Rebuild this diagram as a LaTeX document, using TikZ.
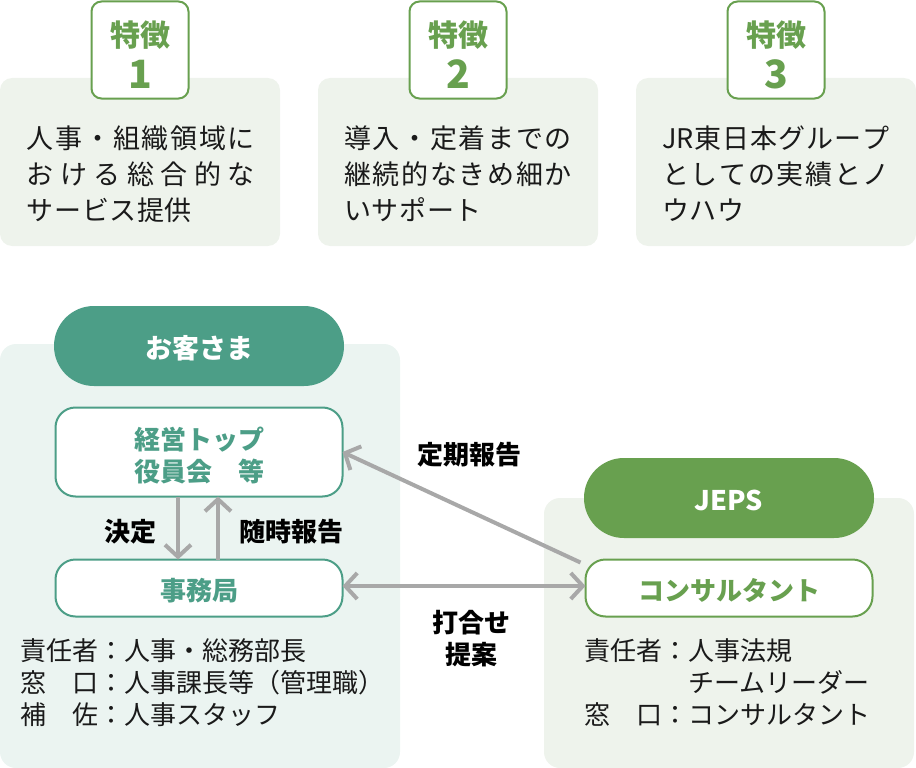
\documentclass[tikz,border=0pt]{standalone}
\usepackage{fontspec}
\setmainfont{Noto Sans CJK JP}
\usetikzlibrary{arrows.meta}
\definecolor{lgreen}{HTML}{68A04F}
\definecolor{teal}{HTML}{4C9E87}
\definecolor{panelg}{HTML}{EEF3EC}
\definecolor{panelt}{HTML}{EBF4F1}
\definecolor{arrowgray}{HTML}{A8A8A8}
\definecolor{ink}{HTML}{1A1A1A}
\newcommand{\jline}[2][228pt]{\makebox[#1][s]{\spaceskip=0pt plus 30pt\xspaceskip=0pt plus 30pt #2}}
\newcommand{\hts}[2]{\rule[-#2pt]{0pt}{#1pt}}
\tikzset{
  x=1pt,y=-1pt,
  every node/.style={inner sep=0pt,outer sep=0pt},
  panel/.style={rectangle,rounded corners=12pt,minimum width=280pt,minimum height=168pt,fill=panelg},
  bigpanel/.style={rectangle,rounded corners=16pt,fill=#1},
  tag/.style={rectangle,rounded corners=10pt,draw=lgreen,line width=2pt,fill=white,minimum width=97pt,minimum height=97pt,text=lgreen,align=center},
  body/.style={anchor=north west,align=left,text=ink,font=\fontsize{27}{36}\selectfont},
  pill/.style={rectangle,rounded corners=39.9pt,minimum width=290pt,minimum height=80pt,fill=#1,text=white,font=\bfseries\fontsize{27}{30}\selectfont},
  rolebox/.style={rectangle,rounded corners=20pt,draw=#1,line width=2pt,fill=white,minimum width=287pt,text=#1,align=center,font=\bfseries\fontsize{26}{32}\selectfont},
  info/.style={anchor=north west,align=left,text=ink,font=\fontsize{26}{32}\selectfont},
  lbl/.style={text=black,align=center,font=\bfseries\fontsize{26}{32}\selectfont},
  conn/.style={draw=arrowgray,line width=4pt},
  tip/.style={-{Straight Barb[length=12pt,width=26pt,line width=4pt]}},
  biptip/.style={{Straight Barb[length=12pt,width=26pt,line width=4pt]}-{Straight Barb[length=12pt,width=26pt,line width=4pt]}},
}
\newcommand{\tagtext}[1]{{\fontsize{30}{38}\selectfont\bfseries\hts{35}{0}特徴}\\[9pt]{\fontsize{39}{38}\selectfont\bfseries #1}}
\begin{document}
\begin{tikzpicture}
\useasboundingbox (0,0) rectangle (916,768);
% top panels
\node[panel] (p1) at (140,162) {};
\node[panel] (p2) at (458,162) {};
\node[panel] (p3) at (776,162) {};
\node[tag] (t1) at (140,50) {\tagtext{1}};
\node[tag] (t2) at (458,50) {\tagtext{2}};
\node[tag] (t3) at (776,50) {\tagtext{3}};
\node[body] (b1) at (27,125.5) {\jline{人 事 ・ 組 織 領 域 に}\\\jline{お け る 総 合 的 な}\\\jline[165pt]{サ ー ビ ス 提 供}};
\node[body] (b2) at (344,125.5) {\jline{導 入 ・ 定 着 ま で の}\\\jline{継 続 的 な き め 細 か}\\\jline[138pt]{い サ ポ ー ト}};
\node[body] (b3) at (662,125.5) {\jline{JR 東 日 本 グ ル ー プ}\\\jline{と し て の 実 績 と ノ}\\\jline[82pt]{ウ ハ ウ}};
% customer side
\node[bigpanel=panelt,minimum width=400pt,minimum height=424pt] (cust) at (200,556) {};
\node[pill=teal] (custh) at (199,346) {\hts{32}{4}お客さま};
\node[rolebox=teal,minimum height=89pt] (top) at (199,452) {\hts{34}{4}経営トップ\\役員会　等\hts{20}{4}};
\node[rolebox=teal,minimum height=57pt] (jimu) at (199,588) {\hts{32}{4}事務局};
\node[info] (ci) at (20,639) {責任者：人事・総務部長\\窓　口：人事課長等（管理職）\\補　佐：人事スタッフ};
% JEPS side
\node[bigpanel=panelg,minimum width=370pt,minimum height=270pt] (jeps) at (729,633) {};
\node[pill=lgreen] (jepsh) at (729,498) {\hts{32}{4}JEPS};
\node[rolebox=lgreen,minimum height=57pt] (cons) at (729,588) {\hts{32}{4}コンサルタント};
\node[info] (ji) at (584,639) {責任者：人事法規\\　　　　チームリーダー\\窓　口：コンサルタント};
% connectors
\draw[conn,tip] ([xshift=-21pt]top.south) -- ([xshift=-21pt]jimu.north);
\draw[conn,tip] ([xshift=19pt]jimu.north) -- ([xshift=19pt]top.south);
\draw[conn,tip] ([shift={(-5pt,-3pt)}]cons.north west) -- (top.east);
\draw[conn,biptip] ([yshift=2pt]jimu.east) -- ([yshift=2pt]cons.west);
% labels
\node[lbl] (l1) at (130,532) {決定};
\node[lbl] (l2) at (291.5,532) {随時報告};
\node[lbl] (l3) at (469.5,454.5) {定期報告};
\node[lbl] (l4) at (471,639) {打合せ\\提案};
\end{tikzpicture}
\end{document}
